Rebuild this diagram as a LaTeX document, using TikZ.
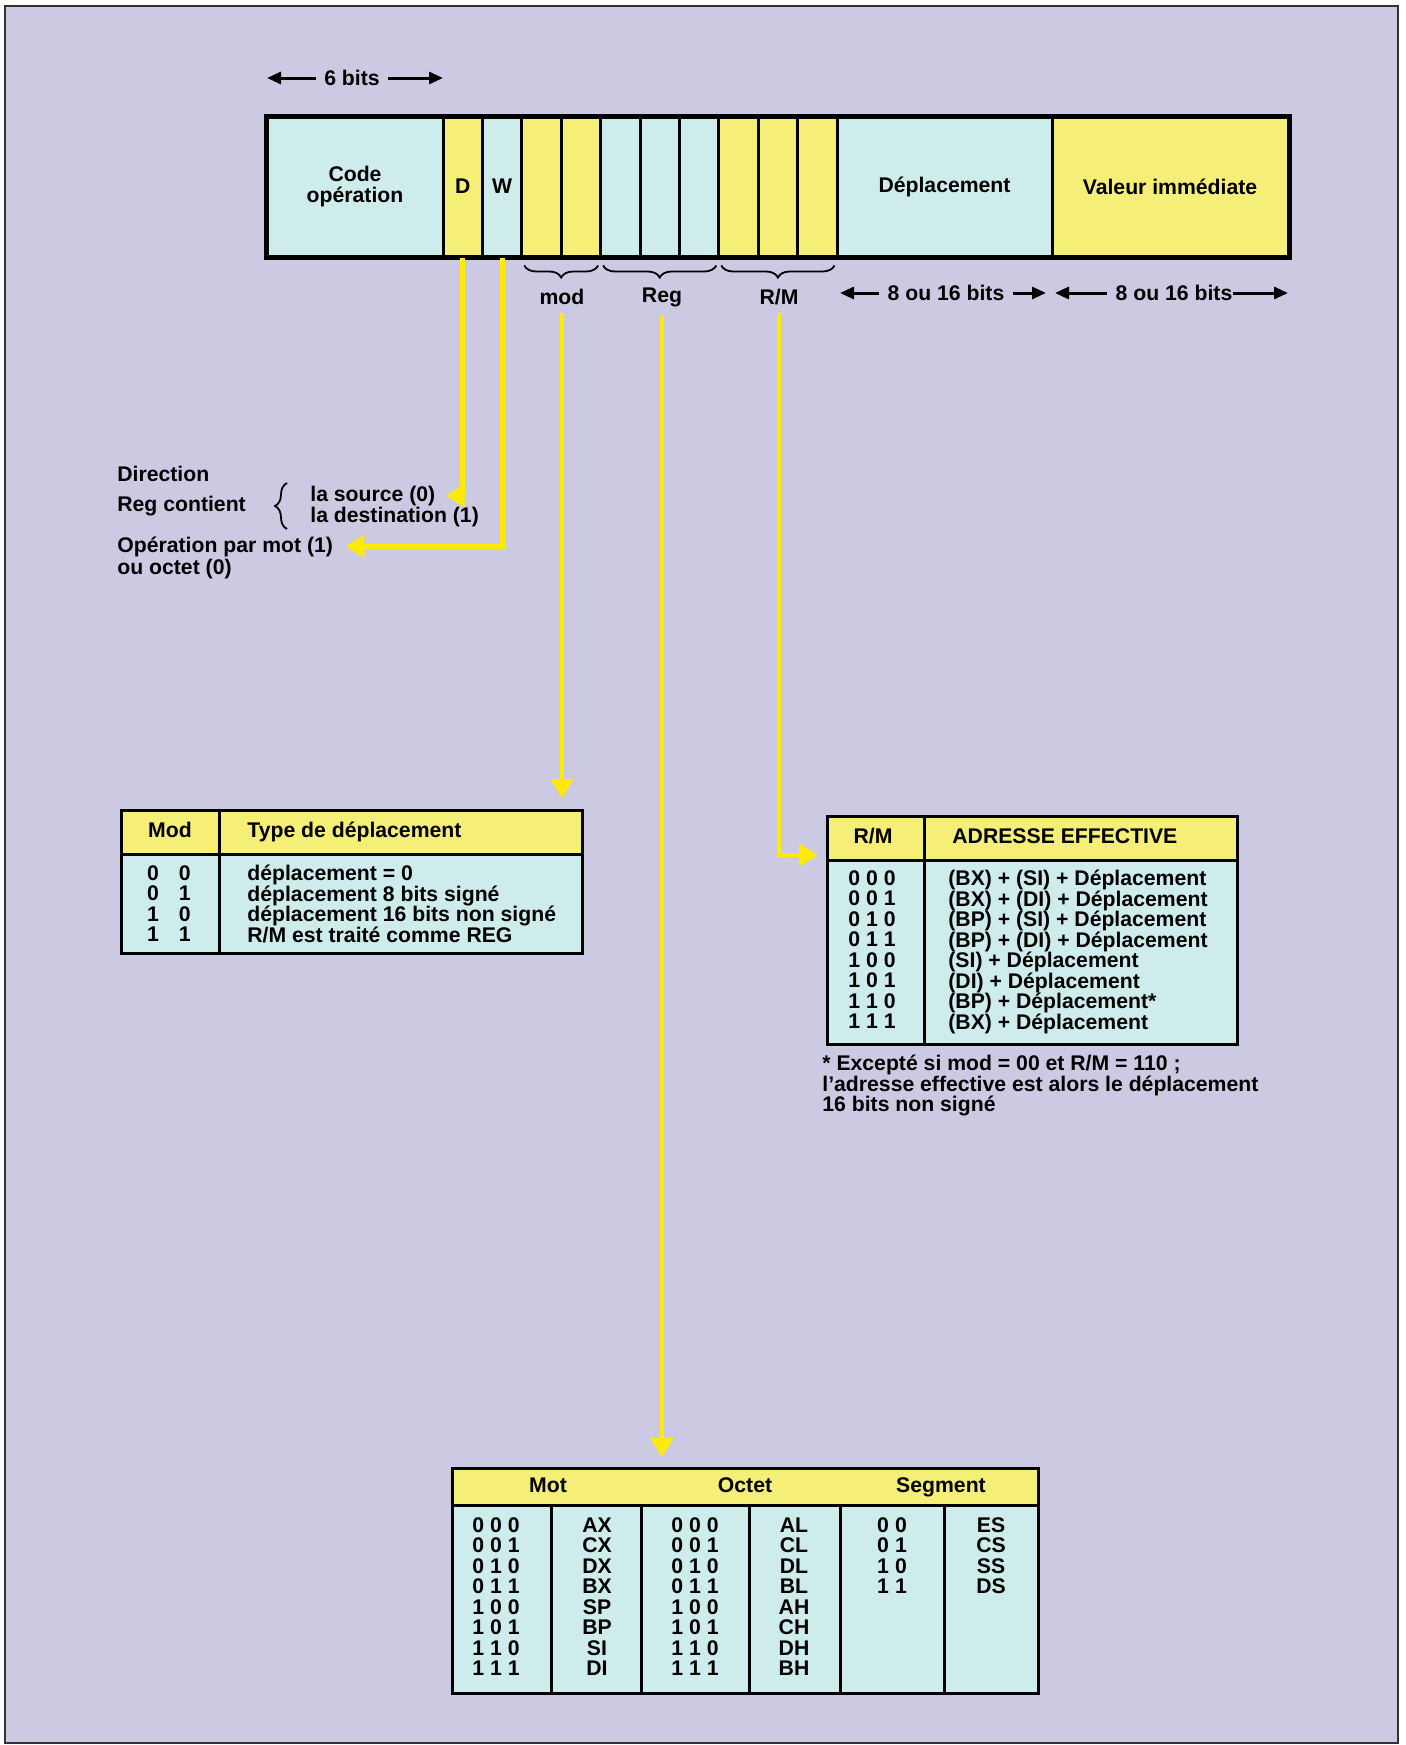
\documentclass[tikz,border=0pt]{standalone}
\usepackage{fontspec}
\setmainfont{Liberation Sans}
\usetikzlibrary{arrows.meta,positioning,decorations.pathreplacing}

\definecolor{lavande}{RGB}{204,202,227}
\definecolor{cyanpale}{RGB}{205,236,235}
\definecolor{jaune}{RGB}{245,239,120}
\definecolor{jaunevif}{RGB}{255,234,0}

\newcommand{\tb}[3]{#1\hspace{3pt}#2\hspace{3pt}#3}

\begin{document}
\begin{tikzpicture}[
    x=0.5pt, y=-0.5pt,
    txt/.style={font=\bfseries\fontsize{10.6}{10.25}\selectfont, inner sep=0pt, align=center},
    bit/.style={txt, draw, line width=1.5pt, minimum width=19.7pt, minimum height=69.5pt},
    tabcell/.style={draw, line width=1.5pt, inner sep=0pt, anchor=north west},
    feed/.style={jaunevif, line width=2.4pt, -{Triangle[width=11pt,length=9.5pt]}},
    dim/.style={line width=1.5pt, -{Triangle[width=6pt,length=7pt]}},
    accol/.style={decorate, decoration={brace, amplitude=6pt}, line width=0.9pt}
]
\useasboundingbox (0,0) rectangle (1406,1745);
\fill[white] (0,0) rectangle (1406,1745);
\filldraw[fill=lavande, draw=black!80, line width=1pt] (5,6) rectangle (1398,1743);

% format de l'instruction
\node[bit, fill=cyanpale, minimum width=88pt] (code) at (355,186.5) {Code\\opération};
\foreach \i/\c/\t in {0/jaune/D,1/cyanpale/W,2/jaune/,3/jaune/,4/cyanpale/,
                      5/cyanpale/,6/cyanpale/,7/jaune/,8/jaune/,9/jaune/}
  \node[bit, fill=\c] (b\i) at ({462.7+39.4*\i},186.5) {\t};
\node[bit, fill=cyanpale, minimum width=107.5pt] (depl) at (944.5,186.5) {Déplacement};
\node[bit, fill=jaune, minimum width=118pt] (val) at (1170,186.5) {Valeur immédiate};
\draw[line width=2pt] (code.north west) rectangle (val.south east);

\node[txt] (six) at (352,78) {6 bits};
\coordinate (sixL) at (267,78);
\coordinate (sixR) at (443,78);
\draw[dim] ([xshift=-4pt]six.west) -- (sixL);
\draw[dim] ([xshift=4pt]six.east) -- (sixR);

\draw[accol] ([shift={(-2pt,-4pt)}]b3.south east) -- ([shift={(2pt,-4pt)}]b2.south west);
\draw[accol] ([shift={(-2pt,-4pt)}]b6.south east) -- ([shift={(2pt,-4pt)}]b4.south west);
\draw[accol] ([shift={(-2pt,-4pt)}]b9.south east) -- ([shift={(2pt,-4pt)}]b7.south west);
\node[txt] (modlbl) at (562,297) {mod};
\node[txt] (reglbl) at (662,297) {Reg};
\node[txt] (rmlbl) at (779,297) {R/M};

\node[txt] (dep16) at (946,293) {8 ou 16 bits};
\coordinate (depL) at (840,293);
\coordinate (depR) at (1046,293);
\draw[dim] ([xshift=-4pt]dep16.west) -- (depL);
\draw[dim] ([xshift=4pt]dep16.east) -- (depR);
\node[txt] (val16) at (1174,293) {8 ou 16 bits};
\coordinate (valL) at (1055,293);
\coordinate (valR) at (1288,293);
\draw[dim] ([xshift=-4pt]val16.west) -- (valL);
\draw[dim] (val16.east) -- (valR);

% bits D et W
\node[txt, anchor=base west] (dir) at (117,481) {Direction};
\node[txt, anchor=base west] (regc) at (117,511) {Reg contient};
\draw[accol] (287,529) -- (287,483);
\node[txt, anchor=base west] (src) at (310,501) {la source (0)};
\node[txt, anchor=base west] (dst) at (310,522) {la destination (1)};
\node[txt, anchor=base west] (opm) at (117,552) {Opération par mot (1)};
\node[txt, anchor=base west] (oct) at (117,574) {ou octet (0)};

\draw[feed] (b0.south) |- ([xshift=5pt]src.east);
\draw[feed] (b1.south) |- ([xshift=6pt]opm.east);

% table mod
\node[tabcell, fill=jaune, minimum width=230.5pt, minimum height=22pt] (modtab) at (120,809) {};
\node[tabcell, fill=cyanpale, minimum width=230.5pt, minimum height=49.5pt] (modcorps) at (120,853) {};
\draw[line width=1.5pt] (219,809) -- (219,952);
\node[txt, anchor=base] (modh) at (170,837) {Mod};
\node[txt, anchor=base west] (typh) at (247,837) {Type de déplacement};
\node[txt, anchor=north] (modv) at (169,865) {0\hspace{10pt}0\\0\hspace{10pt}1\\1\hspace{10pt}0\\1\hspace{10pt}1};
\node[txt, anchor=north west, align=left] (typv) at (247,865)
  {déplacement = 0\\déplacement 8 bits signé\\déplacement 16 bits non signé\\R/M est traité comme REG};

% table R/M
\node[tabcell, fill=jaune, minimum width=205pt, minimum height=22pt] (rmtab) at (826,815) {};
\node[tabcell, fill=cyanpale, minimum width=205pt, minimum height=92pt] (rmcorps) at (826,859) {};
\draw[line width=1.5pt] (924,815) -- (924,1043);
\node[txt, anchor=base] (rmh) at (873,843) {R/M};
\node[txt, anchor=base west] (adh) at (952,843) {ADRESSE EFFECTIVE};
\node[txt, anchor=north] (rmv) at (872,870)
  {\tb000\\\tb001\\\tb010\\\tb011\\\tb100\\\tb101\\\tb110\\\tb111};
\node[txt, anchor=north west, align=left] (adv) at (948,870)
  {(BX) + (SI) + Déplacement\\(BX) + (DI) + Déplacement\\(BP) + (SI) + Déplacement\\(BP) + (DI) + Déplacement\\
   (SI) + Déplacement\\(DI) + Déplacement\\(BP) + Déplacement*\\(BX) + Déplacement};
\node[txt, anchor=north west, align=left] (note) at (822,1055)
  {* Excepté si mod = 00 et R/M = 110 ;\\l’adresse effective est alors le déplacement\\16 bits non signé};

% table des registres
\node[tabcell, fill=jaune, minimum width=293pt, minimum height=18.5pt] (regtab) at (451,1467) {};
\node[tabcell, fill=cyanpale, minimum width=293pt, minimum height=94pt] (regcorps) at (451,1504) {};
\foreach \x in {551,641,749,840,944}
  \draw[line width=1.5pt] (\x,1504) -- (\x,1692);
\node[txt, anchor=base] (moth) at (548,1492) {Mot};
\node[txt, anchor=base] (octh) at (745,1492) {Octet};
\node[txt, anchor=base] (segh) at (941,1492) {Segment};
\node[txt, anchor=north] (motv) at (496,1517)
  {\tb000\\\tb001\\\tb010\\\tb011\\\tb100\\\tb101\\\tb110\\\tb111};
\node[txt, anchor=north] (motr) at (597,1517) {AX\\CX\\DX\\BX\\SP\\BP\\SI\\DI};
\node[txt, anchor=north] (octv) at (695,1517)
  {\tb000\\\tb001\\\tb010\\\tb011\\\tb100\\\tb101\\\tb110\\\tb111};
\node[txt, anchor=north] (octr) at (794,1517) {AL\\CL\\DL\\BL\\AH\\CH\\DH\\BH};
\node[txt, anchor=north] (segv) at (892,1517) {0\hspace{3pt}0\\0\hspace{3pt}1\\1\hspace{3pt}0\\1\hspace{3pt}1};
\node[txt, anchor=north] (segr) at (991,1517) {ES\\CS\\SS\\DS};

% champs mod, Reg, R/M
\coordinate (rmin) at (826,855);
\draw[feed, shorten >=5.5pt] ([yshift=-4pt]modlbl.south) -- (modlbl.south |- modtab.north);
\draw[feed, shorten >=5pt] ([yshift=-4pt]reglbl.south) -- (reglbl.south |- regtab.north);
\draw[feed] ([yshift=-4pt]rmlbl.south) |- ([xshift=-4pt]rmin);
\end{tikzpicture}
\end{document}
